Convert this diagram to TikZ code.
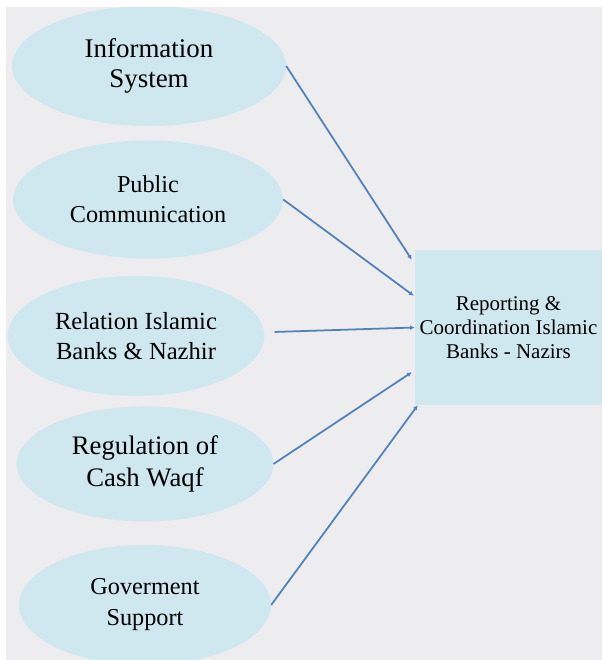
\documentclass[tikz,border=0pt]{standalone}
\usepackage{fontspec}
\setmainfont{Liberation Serif}
\usepackage{tikz}
\usetikzlibrary{arrows.meta,positioning,shapes.geometric}
\definecolor{backdrop}{HTML}{EDEDF0}
\definecolor{bubble}{HTML}{CFE7EE}
\definecolor{linkblue}{HTML}{4F81BD}

\begin{document}
\begin{tikzpicture}[x=0.03cm,y=-0.03cm,node distance=0.4cm,>={Latex[length=4pt,width=4pt]}]
\tikzstyle{factor}=[ellipse, fill=bubble, align=center, inner sep=0pt, minimum width=7.7cm, minimum height=3.6cm]
\tikzstyle{hub}=[rectangle, fill=bubble, align=center, inner sep=0pt, minimum width=5.61cm, minimum height=4.65cm]
\tikzstyle{link}=[->, draw=linkblue, line width=1.5pt]
\useasboundingbox (0,0) rectangle (602,660);
\fill[backdrop] (6,7) rectangle (602,660);
\begin{scope}
\clip (6,7) rectangle (602,660);
\node[factor, minimum width=8.22cm, font=\fontsize{23}{25.6}\selectfont] (info) at (149,66) {Information\\System};
\node[factor, minimum width=8.1cm, minimum height=3.54cm, font=\fontsize{20.7}{25.6}\selectfont, below=0.42cm of info, xshift=-0.03cm] (pub) {Public\\Communication};
\node[factor, font=\fontsize{21}{25.6}\selectfont, below=0.51cm of pub, xshift=-0.36cm] (rel) {Relation Islamic\\Banks \& Nazhir};
\node[factor, minimum height=3.45cm, font=\fontsize{22.8}{26.5}\selectfont, below=0.3cm of rel, xshift=0.27cm] (reg) {Regulation of\\Cash Waqf};
\node[factor, minimum width=7.56cm, font=\fontsize{20.7}{26.5}\selectfont, below=0.69cm of reg] (gov) {Goverment\\Support};
\end{scope}
\node[hub, font=\fontsize{17.9}{20.5}\selectfont] (rep) at (508.5,327.5) {Reporting \&\\Coordination Islamic\\Banks - Nazirs};
% factors feeding the reporting box
\draw[link] (info.east) -- ([shift={(-3,10)}]rep.north west);
\draw[link] (pub.east) -- ([shift={(-1,46)}]rep.north west);
\draw[link] ([shift={(10,-4)}]rel.east) -- (rep.west);
\draw[link] (reg.east) -- ([shift={(-3,-33)}]rep.south west);
\draw[link] (gov.east) -- ([shift={(3,0)}]rep.south west);
\end{tikzpicture}
\end{document}
